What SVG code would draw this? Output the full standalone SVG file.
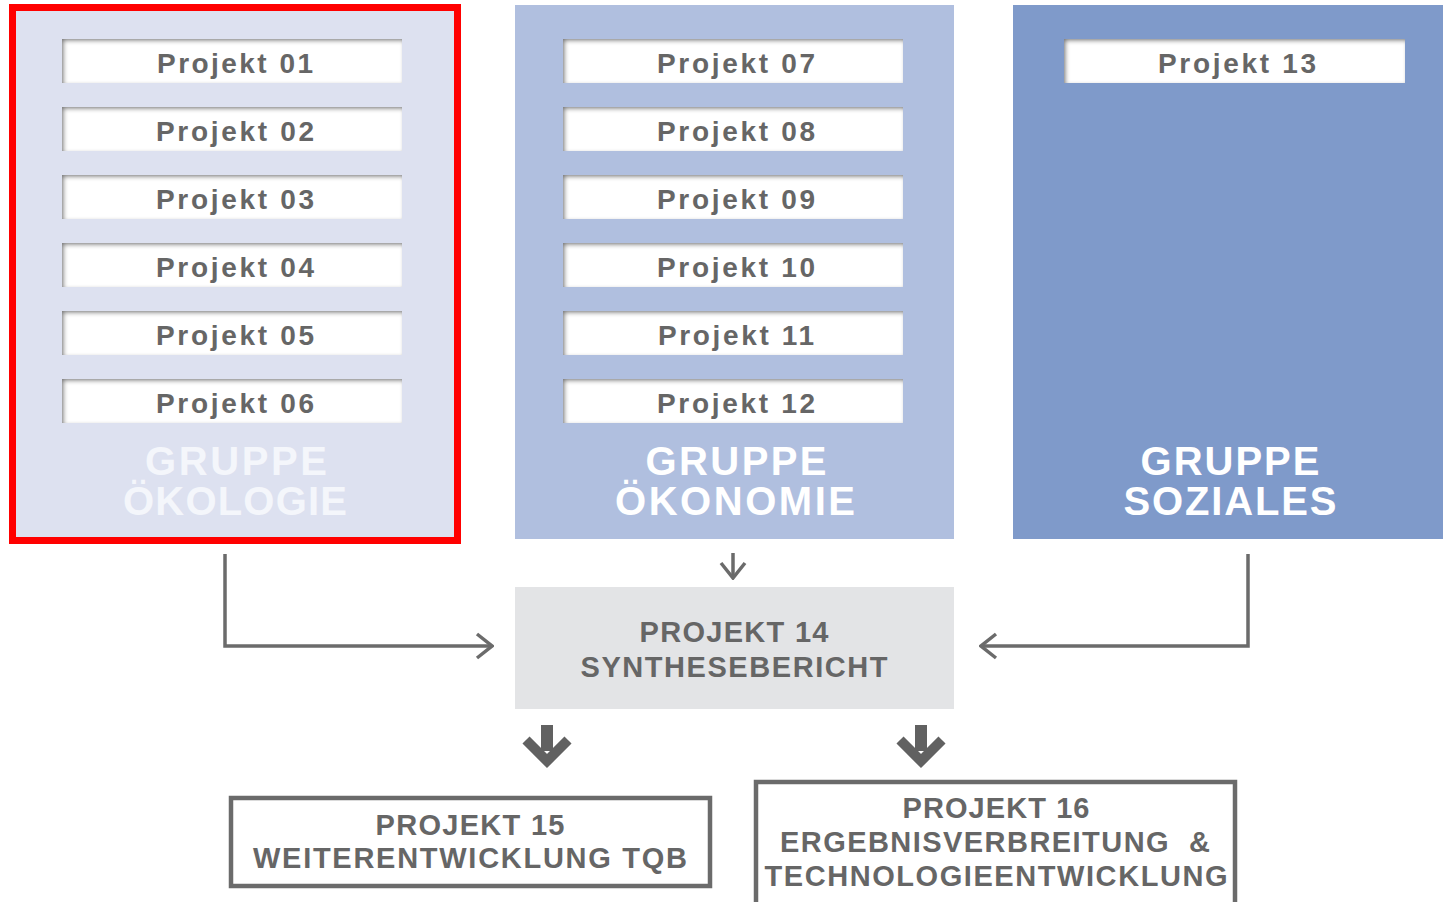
<svg xmlns="http://www.w3.org/2000/svg" width="1443" height="902" viewBox="0 0 1443 902">
  <defs>
    <style>
      .col1 { fill: #dde1f0; }
      .col2 { fill: #b0bfdf; }
      .col3 { fill: #7f9aca; }
      .proj { fill: #ffffff; filter: url(#inset); }
      .plabel { font-family: "Liberation Sans", Arial, sans-serif; font-weight: bold; font-size: 28px; fill: #666666; text-anchor: middle; }
      .group { font-family: "Liberation Sans", Arial, sans-serif; font-weight: bold; font-size: 40px; fill: #ffffff; text-anchor: middle; }
      .group.light { fill: #f4f6fb; }
      .blabel { font-family: "Liberation Sans", Arial, sans-serif; font-weight: bold; font-size: 29px; fill: #666666; text-anchor: middle; }
      .conn { fill: none; stroke: #6b6b6b; stroke-width: 3.5; }
      .outline { fill: #ffffff; stroke: #6b6b6b; stroke-width: 4.5; }
    </style>
    <!-- soft inner shadow for the white project slots -->
    <filter id="inset" x="-5%" y="-20%" width="110%" height="140%">
      <feFlood flood-color="#7a7a7a"/>
      <feComposite in2="SourceAlpha" operator="out"/>
      <feGaussianBlur stdDeviation="2"/>
      <feOffset dx="1.5" dy="1.5"/>
      <feComposite in2="SourceAlpha" operator="in" result="shadow"/>
      <feMerge>
        <feMergeNode in="SourceGraphic"/>
        <feMergeNode in="shadow"/>
      </feMerge>
    </filter>
    <marker id="chev" viewBox="0 0 20 28" refX="18" refY="14" markerWidth="20" markerHeight="28" markerUnits="userSpaceOnUse" orient="auto">
      <path d="M3,2 L18,14 L3,26" fill="none" stroke="#6b6b6b" stroke-width="3.5"/>
    </marker>
    <g id="bigArrow">
      <rect x="-6" y="0" width="12" height="26" fill="#616161"/>
      <polyline points="-21,15 0,36 21,15" fill="none" stroke="#616161" stroke-width="10"/>
    </g>
  </defs>

  <rect width="1443" height="902" fill="#ffffff"/>

  <!-- Gruppe Ökologie -->
  <g id="gruppe-oekologie">
    <rect class="col1" x="12" y="7" width="446" height="533"/>
    <rect x="12.5" y="7.5" width="445" height="533" fill="none" stroke="#ff0000" stroke-width="7"/>
    <rect class="proj" x="62" y="39" width="340" height="44"/>
    <text class="plabel" x="235" y="73" textLength="156" lengthAdjust="spacing">Projekt 01</text>
    <rect class="proj" x="62" y="107" width="340" height="44"/>
    <text class="plabel" x="235" y="141" textLength="158" lengthAdjust="spacing">Projekt 02</text>
    <rect class="proj" x="62" y="175" width="340" height="44"/>
    <text class="plabel" x="235" y="209" textLength="158" lengthAdjust="spacing">Projekt 03</text>
    <rect class="proj" x="62" y="243" width="340" height="44"/>
    <text class="plabel" x="235" y="277" textLength="158" lengthAdjust="spacing">Projekt 04</text>
    <rect class="proj" x="62" y="311" width="340" height="44"/>
    <text class="plabel" x="235" y="345" textLength="158" lengthAdjust="spacing">Projekt 05</text>
    <rect class="proj" x="62" y="379" width="340" height="44"/>
    <text class="plabel" x="235" y="413" textLength="158" lengthAdjust="spacing">Projekt 06</text>
    <text class="group light" x="236" y="475" textLength="182" lengthAdjust="spacing">GRUPPE</text>
    <text class="group light" x="235" y="515" textLength="224" lengthAdjust="spacing">ÖKOLOGIE</text>
  </g>

  <!-- Gruppe Ökonomie -->
  <g id="gruppe-oekonomie">
    <rect class="col2" x="515" y="5" width="439" height="534"/>
    <rect class="proj" x="563" y="39" width="340" height="44"/>
    <text class="plabel" x="736" y="73" textLength="158" lengthAdjust="spacing">Projekt 07</text>
    <rect class="proj" x="563" y="107" width="340" height="44"/>
    <text class="plabel" x="736" y="141" textLength="158" lengthAdjust="spacing">Projekt 08</text>
    <rect class="proj" x="563" y="175" width="340" height="44"/>
    <text class="plabel" x="736" y="209" textLength="158" lengthAdjust="spacing">Projekt 09</text>
    <rect class="proj" x="563" y="243" width="340" height="44"/>
    <text class="plabel" x="736" y="277" textLength="158" lengthAdjust="spacing">Projekt 10</text>
    <rect class="proj" x="563" y="311" width="340" height="44"/>
    <text class="plabel" x="736" y="345" textLength="156" lengthAdjust="spacing">Projekt 11</text>
    <rect class="proj" x="563" y="379" width="340" height="44"/>
    <text class="plabel" x="736" y="413" textLength="158" lengthAdjust="spacing">Projekt 12</text>
    <text class="group" x="736" y="475" textLength="181" lengthAdjust="spacing">GRUPPE</text>
    <text class="group" x="735" y="515" textLength="240" lengthAdjust="spacing">ÖKONOMIE</text>
  </g>

  <!-- Gruppe Soziales -->
  <g id="gruppe-soziales">
    <rect class="col3" x="1013" y="5" width="430" height="534"/>
    <rect class="proj" x="1064" y="39" width="341" height="44"/>
    <text class="plabel" x="1237" y="73" textLength="158" lengthAdjust="spacing">Projekt 13</text>
    <text class="group" x="1230" y="475" textLength="179" lengthAdjust="spacing">GRUPPE</text>
    <text class="group" x="1230" y="515" textLength="213" lengthAdjust="spacing">SOZIALES</text>
  </g>

  <!-- Projekt 14 -->
  <g id="projekt-14">
    <rect x="515" y="587" width="439" height="122" fill="#e3e4e6"/>
    <text class="blabel" x="734" y="642" font-size="28" textLength="189" lengthAdjust="spacing">PROJEKT 14</text>
    <text class="blabel" x="734" y="677" font-size="28" textLength="307" lengthAdjust="spacing">SYNTHESEBERICHT</text>
  </g>

  <!-- Projekt 15 -->
  <g id="projekt-15">
    <rect class="outline" x="231" y="798" width="479" height="88"/>
    <text class="blabel" x="470" y="835" textLength="189" lengthAdjust="spacing">PROJEKT 15</text>
    <text class="blabel" x="470" y="868" textLength="434" lengthAdjust="spacing">WEITERENTWICKLUNG TQB</text>
  </g>

  <!-- Projekt 16 -->
  <g id="projekt-16">
    <rect class="outline" x="756" y="782" width="479" height="130"/>
    <text class="blabel" x="996" y="818" textLength="187" lengthAdjust="spacing">PROJEKT 16</text>
    <text class="blabel" x="995" y="852" textLength="430" xml:space="preserve" lengthAdjust="spacing">ERGEBNISVERBREITUNG  &amp;</text>
    <text class="blabel" x="996" y="886" textLength="463" lengthAdjust="spacing">TECHNOLOGIEENTWICKLUNG</text>
  </g>

  <!-- Connectors -->
  <g id="connectors">
    <path class="conn" d="M225,554 V646 H492" marker-end="url(#chev)"/>
    <path class="conn" d="M1248,554 V646 H981" marker-end="url(#chev)"/>
    <path class="conn" d="M733,553 V578" marker-end="url(#chev)"/>
    <use href="#bigArrow" x="547" y="725"/>
    <use href="#bigArrow" x="921" y="725"/>
  </g>
</svg>
